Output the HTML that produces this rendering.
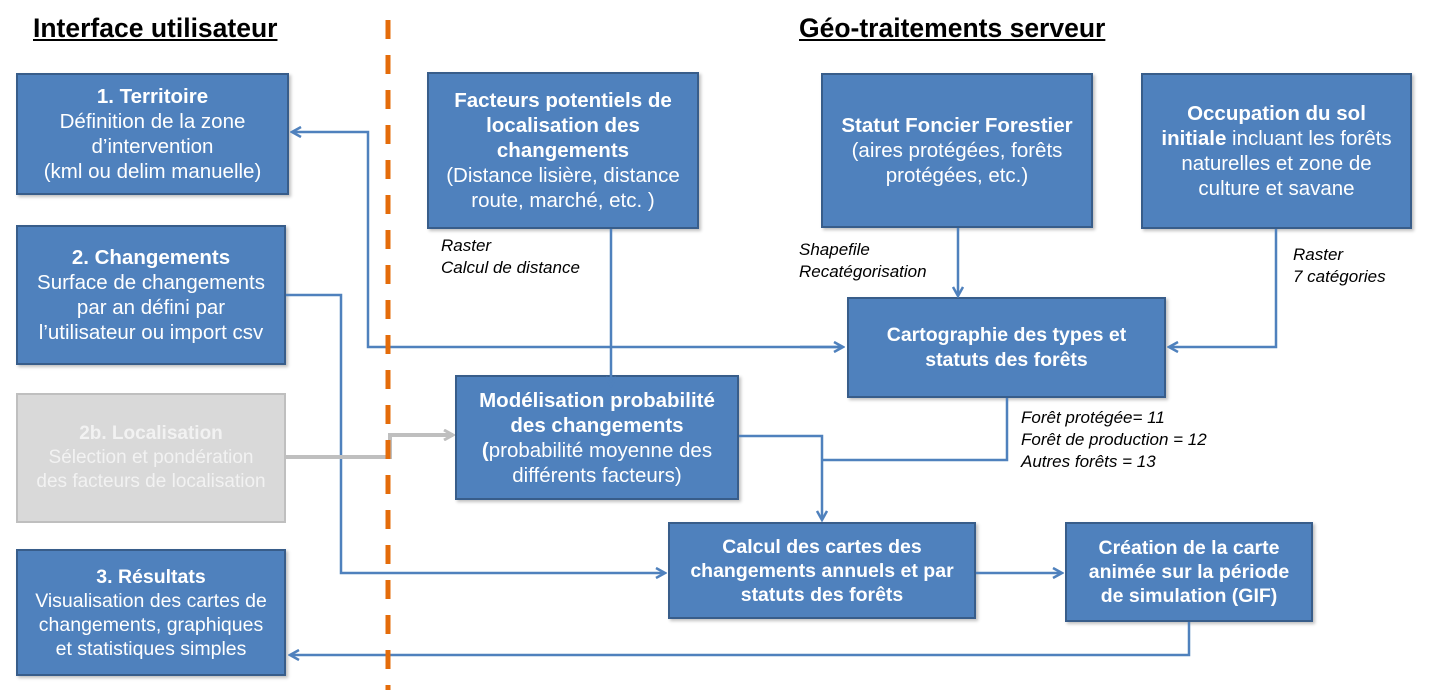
<!DOCTYPE html>
<html><head><meta charset="utf-8"><style>
body{margin:0;width:1433px;height:697px;background:#fff;position:relative;overflow:hidden;font-family:"Liberation Sans",sans-serif}
.b{position:absolute;background:#4f81bd;border:2px solid #385d8a;box-sizing:border-box;color:#fff;font-size:20.5px;line-height:25px;text-align:center;display:flex;align-items:center;justify-content:center;box-shadow:2px 2px 3px rgba(0,0,0,.25);white-space:nowrap}
.g{background:#d9d9d9;border-color:#bfbfbf;color:#f2f2f2;box-shadow:none}
b{font-weight:bold}
.t{position:absolute;font-size:26.5px;font-weight:bold;text-decoration:underline;color:#000}
.i{position:absolute;font-style:italic;font-size:17px;line-height:22px;color:#000}
svg{position:absolute;left:0;top:0;z-index:2}
</style></head><body>
<div class="t" style="left:33px;top:13px">Interface utilisateur</div>
<div class="t" style="left:799px;top:13px">Géo-traitements serveur</div>
<svg width="1433" height="697">
<defs><marker id="a" markerWidth="12" markerHeight="12" refX="10" refY="6" orient="auto" markerUnits="userSpaceOnUse"><path d="M1,1 L10,6 L1,11" fill="none" stroke="#4f81bd" stroke-width="2.5"/></marker>
<marker id="ag" markerWidth="12" markerHeight="12" refX="10" refY="6" orient="auto" markerUnits="userSpaceOnUse"><path d="M1,1 L10,6 L1,11" fill="none" stroke="#bfbfbf" stroke-width="3"/></marker></defs>
<g fill="none" stroke="#4f81bd" stroke-width="2.5">
<polyline points="843,347 368,347 368,132 292,132" marker-end="url(#a)"/>
<line x1="800" y1="347" x2="843" y2="347" marker-end="url(#a)"/>
<polyline points="286,295 341,295 341,573 665,573" marker-end="url(#a)"/>
<line x1="611" y1="229" x2="611" y2="386" marker-end="url(#a)"/>
<line x1="958" y1="228" x2="958" y2="296" marker-end="url(#a)"/>
<polyline points="1276,229 1276,347 1169,347" marker-end="url(#a)"/>
<polyline points="1007,398 1007,460 822,460"/>
<polyline points="739,436 822,436 822,520" marker-end="url(#a)"/>
<line x1="976" y1="573" x2="1062" y2="573" marker-end="url(#a)"/>
<polyline points="1189,622 1189,655 290,655" marker-end="url(#a)"/>
</g>
<polyline points="286,457 390,457 390,435 453,435" fill="none" stroke="#bfbfbf" stroke-width="4" marker-end="url(#ag)"/>
<line x1="388" y1="20" x2="388" y2="690" stroke="#e46c0a" stroke-width="5" stroke-dasharray="19,16"/>
</svg>
<div class="b" style="left:16px;top:73px;width:273px;height:122px"><div><b>1. Territoire</b><br>Définition de la zone<br>d’intervention<br>(kml ou delim manuelle)</div></div>
<div class="b" style="left:16px;top:225px;width:270px;height:140px"><div><b>2. Changements</b><br>Surface de changements<br>par an défini par<br>l’utilisateur ou import csv</div></div>
<div class="b g" style="left:16px;top:393px;width:270px;height:130px;line-height:24px;font-size:19px"><div><b>2b. Localisation</b><br>Sélection et pondération<br>des facteurs de localisation</div></div>
<div class="b" style="left:16px;top:549px;width:270px;height:127px;line-height:24px;font-size:19.5px"><div><b>3. Résultats</b><br>Visualisation des cartes de<br>changements, graphiques<br>et statistiques simples</div></div>
<div class="b" style="left:427px;top:72px;width:272px;height:157px"><div><b>Facteurs potentiels de<br>localisation des<br>changements</b><br>(Distance lisière, distance<br>route, marché, etc. )</div></div>
<div class="b" style="left:821px;top:73px;width:272px;height:155px"><div><b>Statut Foncier Forestier</b><br>(aires protégées, forêts<br>protégées, etc.)</div></div>
<div class="b" style="left:1141px;top:73px;width:271px;height:156px"><div><b>Occupation du sol<br>initiale</b> incluant les forêts<br>naturelles et zone de<br>culture et savane</div></div>
<div class="b" style="left:847px;top:297px;width:319px;height:101px;font-size:19.5px"><div><b>Cartographie des types et<br>statuts des forêts</b></div></div>
<div class="b" style="left:455px;top:375px;width:284px;height:125px"><div><b>Modélisation probabilité<br>des changements<br>(</b>probabilité moyenne des<br>différents facteurs)</div></div>
<div class="b" style="left:668px;top:522px;width:308px;height:97px;font-size:19.5px;line-height:24px"><div><b>Calcul des cartes des<br>changements annuels et par<br>statuts des forêts</b></div></div>
<div class="b" style="left:1065px;top:522px;width:248px;height:100px;font-size:19.5px;line-height:24px"><div><b>Création de la carte<br>animée sur la période<br>de simulation (GIF)</b></div></div>
<div class="i" style="left:441px;top:235px">Raster<br>Calcul de distance</div>
<div class="i" style="left:799px;top:239px">Shapefile<br>Recatégorisation</div>
<div class="i" style="left:1293px;top:244px">Raster<br>7 catégories</div>
<div class="i" style="left:1021px;top:407px">Forêt protégée= 11<br>Forêt de production = 12<br>Autres forêts = 13</div>
</body></html>
